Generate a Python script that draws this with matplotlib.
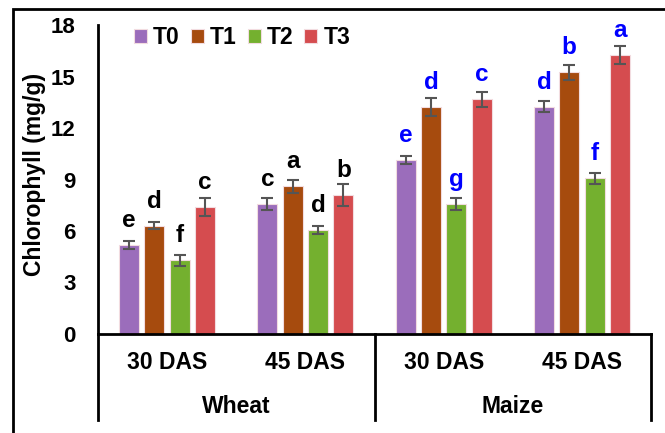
import matplotlib
matplotlib.use("Agg")
import matplotlib.pyplot as plt
from matplotlib.patches import Rectangle
from matplotlib.lines import Line2D
import numpy as np

plt.rcParams["font.family"] = ["Liberation Sans", "DejaVu Sans"]
plt.rcParams["font.weight"] = "bold"

crops = ["Wheat", "Maize"]
stages = ["30 DAS", "45 DAS", "30 DAS", "45 DAS"]
treatments = ["T0", "T1", "T2", "T3"]

# chlorophyll (mg/g), one list per treatment, order: wheat 30, wheat 45, maize 30, maize 45
t0 = [5.18, 7.59, 10.13, 13.24]
t1 = [6.31, 8.60, 13.24, 15.24]
t2 = [4.31, 6.06, 7.57, 9.07]
t3 = [7.40, 8.10, 13.67, 16.25]
t0_err = [0.21, 0.34, 0.21, 0.33]
t1_err = [0.21, 0.40, 0.52, 0.43]
t2_err = [0.32, 0.23, 0.36, 0.32]
t3_err = [0.54, 0.62, 0.43, 0.52]
t0_sig = ["e", "c", "e", "d"]
t1_sig = ["d", "a", "d", "b"]
t2_sig = ["f", "d", "g", "f"]
t3_sig = ["c", "b", "c", "a"]

values = [t0, t1, t2, t3]
errors = [t0_err, t1_err, t2_err, t3_err]
letters = [t0_sig, t1_sig, t2_sig, t3_sig]
colors = ["#9B6DBB", "#A64B0E", "#74B02F", "#D54C4F"]
letter_colors = ["black", "black", "#0000FF", "#0000FF"]

fig = plt.figure(figsize=(6.65, 4.33), dpi=100)
ax = fig.add_axes([98 / 665, 1 - 334 / 433, 553 / 665, 309 / 433])

x = np.arange(len(stages))
step = 0.183
width = 0.145
for i, tr in enumerate(treatments):
    pos = x + (i - 1.5) * step
    ax.bar(pos, values[i], width, color=colors[i], edgecolor="#F2DCE0",
           linewidth=0.8, label=tr, zorder=2)
    ax.errorbar(pos, values[i], yerr=errors[i], fmt="none", ecolor="#555555",
                elinewidth=1.5, capsize=4.5, capthick=1.5, zorder=3)
    for j in range(len(stages)):
        ax.annotate(letters[i][j], (pos[j], values[i][j]), xytext=(0, 13),
                    textcoords="offset points", ha="center", va="baseline",
                    fontsize=17.5, fontweight="bold", color=letter_colors[j])

ax.set_xlim(-0.5, len(stages) - 0.5)
ax.set_ylim(0, 18)
ax.set_yticks(range(0, 19, 3))
ax.tick_params(axis="y", length=0, pad=16, labelsize=16)
ax.set_xticks([])
for s in ["top", "right"]:
    ax.spines[s].set_visible(False)
ax.spines["left"].set_linewidth(2)
ax.spines["bottom"].set_linewidth(2)

# category box under the axis
for xv in [-0.5, 1.5, 3.5]:
    ax.add_line(Line2D([xv, xv], [0, -5.0], color="black", lw=2,
                       clip_on=False, transform=ax.transData))
for j, st in enumerate(stages):
    ax.text(j, -1.68, st, ha="center", va="center", fontsize=16.5,
            fontweight="bold")
for k, crop in enumerate(crops):
    ax.text(0.5 + 2 * k, -4.2, crop, ha="center", va="center", fontsize=16.5,
            fontweight="bold")

fig.text(35 / 665, 1 - 174.5 / 433, "Chlorophyll (mg/g)", rotation=90,
         ha="center", va="center", fontsize=16.5, fontweight="bold")

ax.legend(loc="center left", bbox_to_anchor=(118 / 665, 1 - 38 / 433),
          bbox_transform=fig.transFigure, ncol=4, frameon=False,
          handlelength=0.57, handleheight=0.57, handletextpad=0.26,
          columnspacing=0.48, borderpad=0.2,
          prop={"size": 16.5, "weight": "bold"})

# outer frame
fig.add_artist(Rectangle((12.5 / 665, -0.1), 1.1, 1.1 - 8.5 / 433,
                         transform=fig.transFigure, fill=False,
                         edgecolor="black", lw=2))

fig.savefig("out.png", dpi=100)
